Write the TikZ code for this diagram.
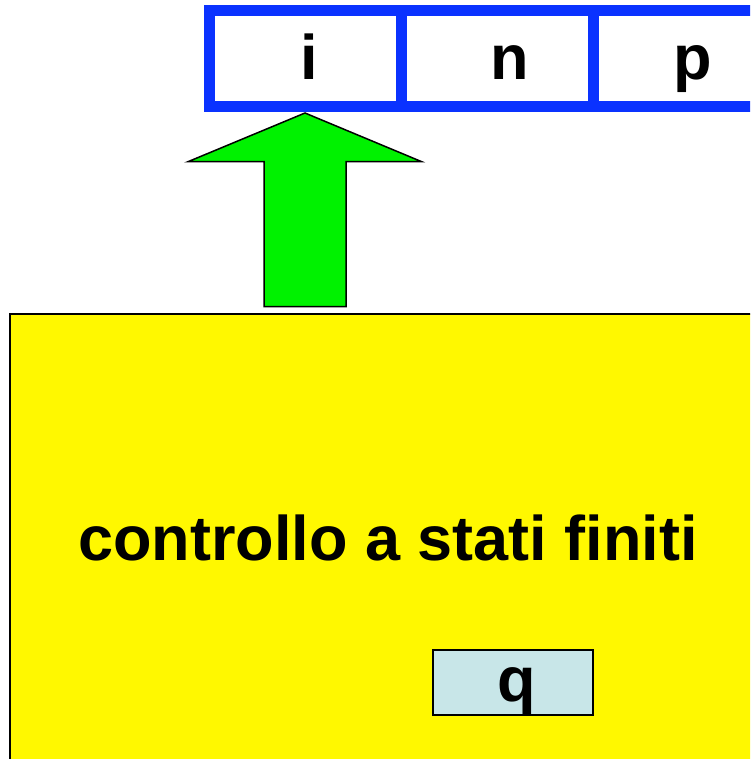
\documentclass[tikz,border=0pt]{standalone}
\usepackage{fontspec}
\setmainfont{Liberation Sans}
\definecolor{tapeblue}{RGB}{10,50,255}
\definecolor{arrowgreen}{RGB}{0,242,0}
\definecolor{ctrlyellow}{RGB}{255,248,0}
\definecolor{statecyan}{RGB}{200,230,232}
\tikzset{
  cell/.style={draw=tapeblue, line width=11pt, minimum width=192pt, minimum height=96pt, inner sep=0pt, outer sep=0pt, line join=miter},
  big/.style={font=\fontsize{63}{70}\selectfont\bfseries, inner sep=0pt, anchor=base},
}
\begin{document}
\begin{tikzpicture}[x=1pt,y=-1pt]
\useasboundingbox (0,0) rectangle (750,759);
\clip (0,0) rectangle (750,759);
% control box
\node[draw=black, line width=2pt, fill=ctrlyellow, minimum width=800pt, minimum height=500pt, inner sep=0pt, anchor=north west] (ctrl) at (9,313) {};
\node[big] (ctrltext) at (388,560) {controllo a stati finiti};
\node[draw=black, line width=1.5pt, fill=statecyan, minimum width=160pt, minimum height=65pt, inner sep=0pt] (state) at (513,682.5) {};
\node[big] (q) at (517,701) {q};
% tape
\node[cell] (c1) at (305,58.5) {};
\node[cell] (c2) at (497,58.5) {};
\node[cell] (c3) at (689,58.5) {};
\node[big] (t1) at (309,80) {i};
\node[big] (t2) at (510,80) {n};
\node[big] (t3) at (693,80) {p};
% head arrow
\coordinate (tip) at (305,113);
\draw[black, line width=1.5pt, fill=arrowgreen, line join=miter]
  (tip) -- (421.7,161.7) -- (346,161.7) -- (346,306.5) -- (264,306.5) -- (264,161.7) -- (188,161.7) -- cycle;
\end{tikzpicture}
\end{document}
